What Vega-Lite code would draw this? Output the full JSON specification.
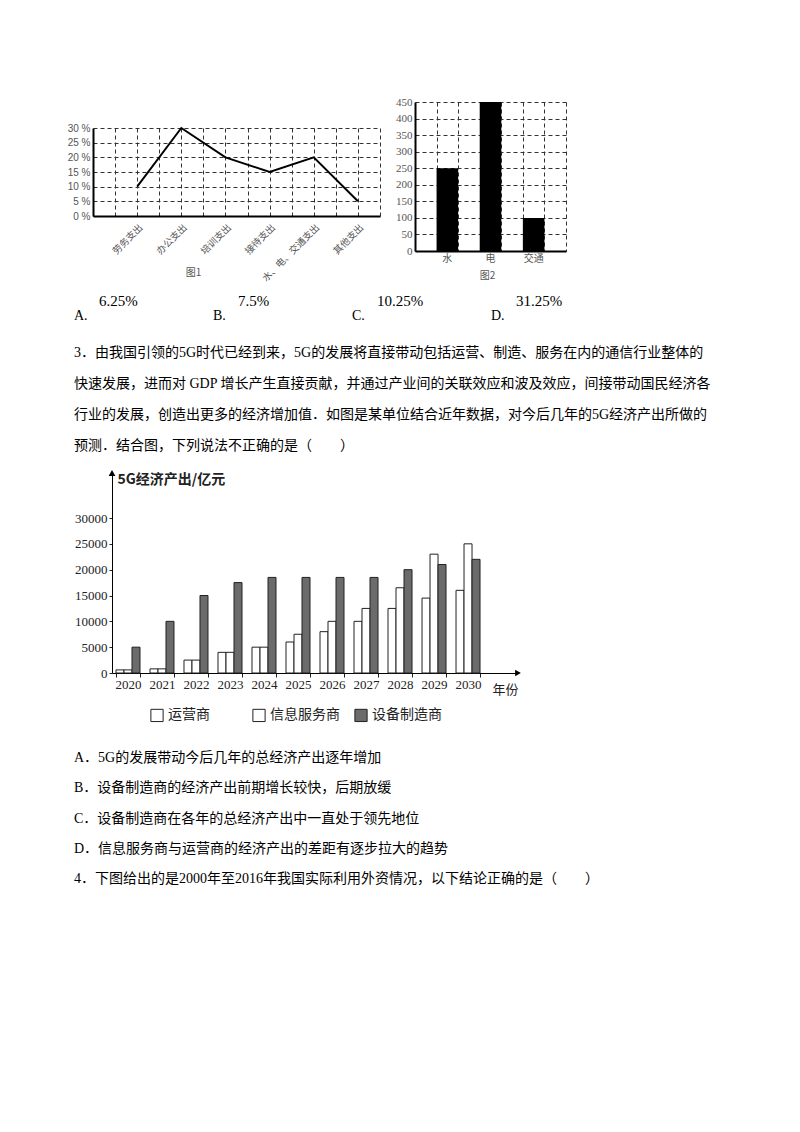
{
  "$schema": "https://vega.github.io/schema/vega-lite/v6.json",
  "background": "white",
  "padding": {"left": 67, "top": 96, "right": 0, "bottom": 0},
  "bounds": "flush",
  "spacing": 0,
  "resolve": {"scale": {"fill": "independent", "xOffset": "independent"}, "legend": {"fill": "independent"}},
  "vconcat": [
    {
      "bounds": "flush",
      "spacing": 0,
      "hconcat": [
        {"width": 19, "height": 1, "data": {"values": []}, "mark": "point"},
        {
          "bounds": "flush",
          "spacing": 0,
          "vconcat": [
            {"width": 287, "height": 26, "data": {"values": []}, "mark": "point"},
            {
              "width": 287,
              "height": 88,
              "data": {
                "values": [
                  {"item": "劳务支出", "pct": 10},
                  {"item": "办公支出", "pct": 30},
                  {"item": "培训支出", "pct": 20},
                  {"item": "接待支出", "pct": 15},
                  {"item": "水、电、交通支出", "pct": 20},
                  {"item": "其他支出", "pct": 5}
                ]
              },
              "layer": [
                {
                  "mark": {"type": "point", "opacity": 0},
                  "encoding": {
                    "x": {
                      "datum": 0, "type": "quantitative",
                      "scale": {"domain": [0, 13]},
                      "axis": {"orient": "top", "values": [1, 2, 3, 4, 5, 6, 7, 8, 9, 10, 11, 12, 13],
                        "grid": true, "gridDash": [4, 3], "gridColor": "#333", "gridWidth": 1,
                        "labels": false, "ticks": false, "domain": false, "title": null}
                    }
                  }
                },
                {
                  "mark": {"type": "line", "color": "black", "strokeWidth": 2},
                  "encoding": {
                    "x": {
                      "field": "item", "type": "nominal", "sort": null,
                      "scale": {"type": "point", "padding": 0.75, "align": 0.6667},
                      "axis": {"labelAngle": -45, "labelFont": "Noto Sans CJK SC", "labelFontSize": 9.5,
                        "labelColor": "#555", "grid": false, "ticks": false, "labelPadding": 6,
                        "domainColor": "black", "domainWidth": 2,
                        "title": "图1", "titleX": 100, "titleY": 56, "titleAlign": "center", "titleBaseline": "middle",
                        "titleFont": "Noto Sans CJK SC", "titleFontSize": 10, "titleFontWeight": "normal", "titleColor": "#555"}
                    },
                    "y": {
                      "field": "pct", "type": "quantitative",
                      "scale": {"domain": [0, 30], "nice": false},
                      "axis": {"values": [0, 5, 10, 15, 20, 25, 30], "labelExpr": "datum.value + ' %'",
                        "grid": true, "gridDash": [4, 3], "gridColor": "#333", "ticks": false, "labelPadding": 3,
                        "labelFont": "Liberation Sans", "labelFontSize": 10, "labelColor": "#555",
                        "domainColor": "black", "domainWidth": 2, "title": null}
                    }
                  }
                }
              ],
              "resolve": {"scale": {"x": "independent"}}
            }
          ]
        },
        {"width": 322, "height": 1, "data": {"values": []}, "mark": "point"},
        {
          "width": 151,
          "height": 149,
          "data": {
            "values": [
              {"cat": "水", "cost": 250},
              {"cat": "电", "cost": 450},
              {"cat": "交通", "cost": 100}
            ]
          },
          "layer": [
            {
              "mark": {"type": "point", "opacity": 0},
              "encoding": {
                "x": {
                  "datum": 0, "type": "quantitative",
                  "scale": {"domain": [0, 7]},
                  "axis": {"orient": "top", "values": [1, 2, 3, 4, 5, 6, 7],
                    "grid": true, "gridDash": [4, 3], "gridColor": "#333", "gridWidth": 1,
                    "labels": false, "ticks": false, "domain": false, "title": null}
                }
              }
            },
            {
              "mark": {"type": "bar", "color": "black"},
              "encoding": {
                "x": {
                  "field": "cat", "type": "nominal", "sort": null,
                  "scale": {"paddingInner": 0.5, "paddingOuter": 0.5},
                  "axis": {"labelAngle": 0, "labelFont": "Noto Sans CJK SC", "labelFontSize": 10,
                    "labelColor": "#555", "grid": false, "ticks": false, "labelPadding": 2,
                    "domainColor": "black", "domainWidth": 2,
                    "title": "图2", "titleX": 72, "titleY": 24, "titleAlign": "center", "titleBaseline": "middle",
                    "titleFont": "Noto Sans CJK SC", "titleFontSize": 10, "titleFontWeight": "normal", "titleColor": "#555"}
                },
                "y": {
                  "field": "cost", "type": "quantitative",
                  "scale": {"domain": [0, 450], "nice": false},
                  "axis": {"values": [0, 50, 100, 150, 200, 250, 300, 350, 400, 450],
                    "grid": true, "gridDash": [4, 3], "gridColor": "#333", "ticks": false, "labelPadding": 3,
                    "labelOverlap": false,
                    "labelFont": "Liberation Serif", "labelFontSize": 11, "labelColor": "#555",
                    "domainColor": "black", "domainWidth": 2, "title": null}
                }
              }
            }
          ],
          "resolve": {"scale": {"x": "independent"}}
        }
      ]
    },
    {"width": 1, "height": 149, "data": {"values": []}, "mark": "point"},
    {
      "width": 417,
      "height": 85.5,
      "data": {
        "values": [
          {"opt": "A.", "val": "6.25%"},
          {"opt": "B.", "val": "7.5%"},
          {"opt": "C.", "val": "10.25%"},
          {"opt": "D.", "val": "31.25%"}
        ]
      },
      "encoding": {
        "x": {"field": "opt", "type": "nominal", "scale": {"type": "point", "padding": 0}, "axis": null}
      },
      "layer": [
        {
          "mark": {"type": "text", "align": "left", "baseline": "middle", "dy": 22,
            "font": "Liberation Serif", "fontSize": 14, "color": "black"},
          "encoding": {"text": {"field": "opt"}}
        },
        {
          "mark": {"type": "text", "align": "left", "baseline": "middle", "dx": 25, "dy": 7,
            "font": "Liberation Serif", "fontSize": 15, "color": "black"},
          "encoding": {"text": {"field": "val"}}
        }
      ]
    },
    {
      "width": 650,
      "height": 124,
      "data": {
        "values": [
          {"line": 1, "text": "3．由我国引领的5G时代已经到来，5G的发展将直接带动包括运营、制造、服务在内的通信行业整体的"},
          {"line": 2, "text": "快速发展，进而对 GDP 增长产生直接贡献，并通过产业间的关联效应和波及效应，间接带动国民经济各"},
          {"line": 3, "text": "行业的发展，创造出更多的经济增加值．如图是某单位结合近年数据，对今后几年的5G经济产出所做的"},
          {"line": 4, "text": "预测．结合图，下列说法不正确的是（　　）"}
        ]
      },
      "mark": {"type": "text", "align": "left", "baseline": "middle",
        "font": "Liberation Serif, Noto Sans CJK SC", "fontSize": 14, "color": "black"},
      "encoding": {
        "x": {"datum": 0, "type": "quantitative", "scale": {"domain": [0, 1]}, "axis": null},
        "y": {"field": "line", "type": "quantitative", "scale": {"domain": [0.5, 4.5], "reverse": true, "nice": false, "zero": false}, "axis": null},
        "text": {"field": "text"}
      }
    },
    {"width": 1, "height": 11.5, "data": {"values": []}, "mark": "point"},
    {
      "bounds": "flush",
      "spacing": 0,
      "resolve": {"scale": {"fill": "independent", "xOffset": "independent"}, "legend": {"fill": "independent"}},
      "hconcat": [
        {"width": 38, "height": 1, "data": {"values": []}, "mark": "point"},
        {
          "width": 406,
          "height": 200,
          "data": {
            "values": [
              {"year": "2020", "type": "运营商", "value": 600},
              {"year": "2020", "type": "信息服务商", "value": 600},
              {"year": "2020", "type": "设备制造商", "value": 5000},
              {"year": "2021", "type": "运营商", "value": 800},
              {"year": "2021", "type": "信息服务商", "value": 800},
              {"year": "2021", "type": "设备制造商", "value": 10000},
              {"year": "2022", "type": "运营商", "value": 2500},
              {"year": "2022", "type": "信息服务商", "value": 2500},
              {"year": "2022", "type": "设备制造商", "value": 15000},
              {"year": "2023", "type": "运营商", "value": 4000},
              {"year": "2023", "type": "信息服务商", "value": 4000},
              {"year": "2023", "type": "设备制造商", "value": 17500},
              {"year": "2024", "type": "运营商", "value": 5000},
              {"year": "2024", "type": "信息服务商", "value": 5000},
              {"year": "2024", "type": "设备制造商", "value": 18500},
              {"year": "2025", "type": "运营商", "value": 6000},
              {"year": "2025", "type": "信息服务商", "value": 7500},
              {"year": "2025", "type": "设备制造商", "value": 18500},
              {"year": "2026", "type": "运营商", "value": 8000},
              {"year": "2026", "type": "信息服务商", "value": 10000},
              {"year": "2026", "type": "设备制造商", "value": 18500},
              {"year": "2027", "type": "运营商", "value": 10000},
              {"year": "2027", "type": "信息服务商", "value": 12500},
              {"year": "2027", "type": "设备制造商", "value": 18500},
              {"year": "2028", "type": "运营商", "value": 12500},
              {"year": "2028", "type": "信息服务商", "value": 16500},
              {"year": "2028", "type": "设备制造商", "value": 20000},
              {"year": "2029", "type": "运营商", "value": 14500},
              {"year": "2029", "type": "信息服务商", "value": 23000},
              {"year": "2029", "type": "设备制造商", "value": 21000},
              {"year": "2030", "type": "运营商", "value": 16000},
              {"year": "2030", "type": "信息服务商", "value": 25000},
              {"year": "2030", "type": "设备制造商", "value": 22000}
            ]
          },
          "layer": [
            {
              "mark": {"type": "bar", "stroke": "#222", "strokeWidth": 1},
              "encoding": {
                "x": {
                  "field": "year", "type": "nominal",
                  "scale": {"paddingInner": 0.294, "paddingOuter": 0.617, "align": 0.095},
                  "axis": {"labelAngle": 0, "tickBand": "extent", "tickSize": 4, "tickColor": "#222",
                    "labelFont": "Liberation Serif", "labelFontSize": 13, "labelColor": "#222", "labelPadding": 1,
                    "domainColor": "black", "domainWidth": 1,
                    "title": "年份", "titleX": 406, "titleY": 16, "titleAlign": "right", "titleBaseline": "middle",
                    "titleFont": "Noto Sans CJK SC", "titleFontSize": 13, "titleFontWeight": "normal", "titleColor": "#222"}
                },
                "xOffset": {
                  "field": "type", "type": "nominal",
                  "scale": {"domain": ["运营商", "信息服务商", "设备制造商"], "paddingInner": 0, "paddingOuter": 0}
                },
                "y": {
                  "field": "value", "type": "quantitative",
                  "scale": {"domain": [0, 38710], "nice": false},
                  "axis": {"values": [0, 5000, 10000, 15000, 20000, 25000, 30000], "format": "d", "grid": false,
                    "labelOverlap": false, "tickSize": 3, "tickColor": "#222", "labelPadding": 2,
                    "labelFont": "Liberation Serif", "labelFontSize": 13, "labelColor": "#222",
                    "domainColor": "black", "domainWidth": 1,
                    "title": "5G经济产出/亿元", "titleAngle": 0, "titleX": 5, "titleY": 6,
                    "titleAlign": "left", "titleBaseline": "middle",
                    "titleFont": "Noto Sans CJK SC", "titleFontSize": 14, "titleFontWeight": "bold", "titleColor": "#222"}
                },
                "fill": {
                  "field": "type", "type": "nominal",
                  "scale": {"domain": ["运营商", "信息服务商", "设备制造商"], "range": ["#ffffff", "#ffffff", "#6b6b6b"]},
                  "legend": {"title": null, "orient": "none", "legendX": 38, "legendY": 235,
                    "direction": "horizontal", "columns": 3, "gridAlign": "all", "columnPadding": 12,
                    "symbolType": "square", "symbolSize": 150, "symbolStrokeColor": "#222", "symbolStrokeWidth": 1,
                    "labelFont": "Noto Sans CJK SC", "labelFontSize": 14, "labelColor": "#222", "labelOffset": 4}
                }
              }
            },
            {
              "data": {"values": [{}]},
              "mark": {"type": "point", "shape": "triangle-right", "filled": true, "color": "black", "size": 45, "opacity": 1},
              "encoding": {
                "x": {"datum": 1, "type": "quantitative", "scale": {"domain": [0, 1]}, "axis": null},
                "y": {"datum": 0, "type": "quantitative", "scale": {"domain": [0, 1]}, "axis": null}
              }
            },
            {
              "data": {"values": [{}]},
              "mark": {"type": "point", "shape": "triangle-up", "filled": true, "color": "black", "size": 45, "opacity": 1},
              "encoding": {
                "x": {"datum": 0, "type": "quantitative", "scale": {"domain": [0, 1]}, "axis": null},
                "y": {"datum": 1, "type": "quantitative", "scale": {"domain": [0, 1]}, "axis": null}
              }
            }
          ],
          "resolve": {"scale": {"x": "independent", "y": "independent"}, "axis": {"x": "independent", "y": "independent"}}
        }
      ]
    },
    {"width": 1, "height": 270, "data": {"values": []}, "mark": "point"},
    {
      "width": 650,
      "height": 151.25,
      "data": {
        "values": [
          {"line": 1, "text": "A．5G的发展带动今后几年的总经济产出逐年增加"},
          {"line": 2, "text": "B．设备制造商的经济产出前期增长较快，后期放缓"},
          {"line": 3, "text": "C．设备制造商在各年的总经济产出中一直处于领先地位"},
          {"line": 4, "text": "D．信息服务商与运营商的经济产出的差距有逐步拉大的趋势"},
          {"line": 5, "text": "4．下图给出的是2000年至2016年我国实际利用外资情况，以下结论正确的是（　　）"}
        ]
      },
      "mark": {"type": "text", "align": "left", "baseline": "middle",
        "font": "Liberation Serif, Noto Sans CJK SC", "fontSize": 14, "color": "black"},
      "encoding": {
        "x": {"datum": 0, "type": "quantitative", "scale": {"domain": [0, 1]}, "axis": null},
        "y": {"field": "line", "type": "quantitative", "scale": {"domain": [0.5, 5.5], "reverse": true, "nice": false, "zero": false}, "axis": null},
        "text": {"field": "text"}
      }
    }
  ],
  "config": {
    "view": {"stroke": null}
  }
}
